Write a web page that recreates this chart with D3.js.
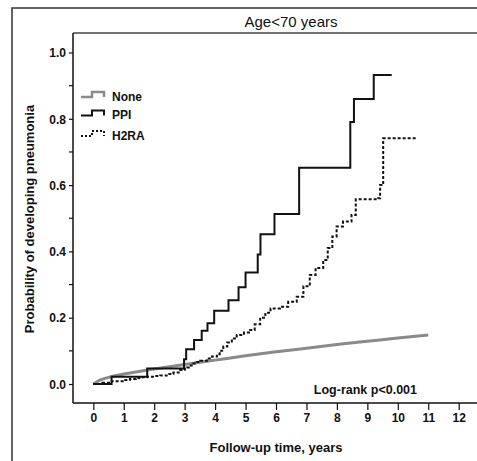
<!DOCTYPE html>
<html>
<head>
<meta charset="utf-8">
<script src="https://cdn.jsdelivr.net/npm/d3@7"></script>
<style>
  html, body { margin: 0; padding: 0; background: #fff; }
  svg { display: block; }
  text { font-family: "Liberation Sans", Arial, sans-serif; }
</style>
</head>
<body>
<svg id="chart" width="477" height="461"></svg>
<script>
// ---- data ----
const title = "Age<70 years";
const xLabel = "Follow-up time, years";
const yLabel = "Probability of developing pneumonia";
const xTickValues = [0, 1, 2, 3, 4, 5, 6, 7, 8, 9, 10, 11, 12];
const yTickValues = [0.0, 0.2, 0.4, 0.6, 0.8, 1.0];
const yMinorTicks = [0.1, 0.3, 0.5, 0.7, 0.9];
const seriesNames = ["None", "PPI", "H2RA"];
const annotation = "Log-rank p<0.001";

const noneTime = [0, 0.25, 0.5, 1, 1.5, 2, 3, 4, 5, 6, 7, 8, 9, 10, 11];
const noneProb = [0, 0.013, 0.020, 0.030, 0.038, 0.045, 0.059, 0.072, 0.085, 0.097, 0.108, 0.119, 0.129, 0.139, 0.148];

const ppiTime = [0, 0.60, 1.77, 2.98, 3.05, 3.31, 3.56, 3.75, 3.97, 4.44, 4.77, 5.00, 5.40, 5.49, 5.95, 6.76, 8.44, 8.56, 9.21, 9.80];
const ppiProb = [0, 0.022, 0.047, 0.075, 0.105, 0.133, 0.161, 0.183, 0.221, 0.253, 0.292, 0.336, 0.391, 0.452, 0.513, 0.652, 0.790, 0.860, 0.932, 0.932];

const h2raTime = [0, 0.30, 0.61, 1.0, 1.2, 1.4, 1.55, 1.76, 2.0, 2.2, 2.45, 2.63, 2.85, 3.0, 3.07, 3.2, 3.29, 3.4, 3.51, 3.73, 3.9, 4.06, 4.15, 4.27, 4.4, 4.55, 4.71, 4.95, 5.15, 5.3, 5.48, 5.65, 5.82, 6.13, 6.4, 6.68, 6.9, 7.11, 7.3, 7.55, 7.7, 7.85, 7.99, 8.2, 8.48, 8.62, 9.36, 9.42, 9.52, 10.6];
const h2raProb = [0, 0.004, 0.008, 0.012, 0.015, 0.018, 0.020, 0.022, 0.024, 0.026, 0.030, 0.035, 0.042, 0.046, 0.050, 0.056, 0.062, 0.066, 0.070, 0.077, 0.083, 0.090, 0.100, 0.113, 0.125, 0.137, 0.148, 0.155, 0.163, 0.180, 0.200, 0.215, 0.228, 0.233, 0.248, 0.263, 0.295, 0.329, 0.350, 0.374, 0.410, 0.445, 0.475, 0.490, 0.510, 0.557, 0.560, 0.600, 0.741, 0.741];

// ---- layout ----
const svg = d3.select("#chart");
const x = d3.scaleLinear().domain([0, 12]).range([93.3, 458.7]);
const y = d3.scaleLinear().domain([0, 1]).range([384, 52.5]);
const axisX0 = 73, axisY0 = 403, frameTop = 33;

// outer border
svg.append("rect").attr("x", 12).attr("y", 8).attr("width", 480).attr("height", 470)
  .attr("fill", "none").attr("stroke", "#333").attr("stroke-width", 1.5);

// plot frame top line
svg.append("line").attr("x1", axisX0).attr("x2", 477).attr("y1", frameTop).attr("y2", frameTop)
  .attr("stroke", "#444").attr("stroke-width", 1.5);

// title
svg.append("text").attr("x", 291).attr("y", 27).attr("text-anchor", "middle")
  .attr("font-size", 15).attr("fill", "#111").text(title);

// y axis
const yAxis = d3.axisLeft(y).tickValues(yTickValues).tickFormat(d3.format(".1f")).tickSize(4).tickSizeOuter(0);
const gy = svg.append("g").attr("transform", `translate(${axisX0},0)`).call(yAxis);
gy.select(".domain").remove();
gy.selectAll("text").attr("font-size", 12).attr("font-weight", "bold").attr("fill", "#111")
  .attr("font-family", "'Liberation Sans', Arial, sans-serif").attr("x", -7).attr("dy", "0.35em");
gy.selectAll(".tick line").attr("stroke", "#111").attr("stroke-width", 1.2);
svg.append("g").selectAll("line").data(yMinorTicks).join("line")
  .attr("x1", axisX0 - 4).attr("x2", axisX0).attr("y1", d => y(d)).attr("y2", d => y(d))
  .attr("stroke", "#111").attr("stroke-width", 1.2);
svg.append("line").attr("x1", axisX0).attr("x2", axisX0).attr("y1", frameTop).attr("y2", axisY0)
  .attr("stroke", "#111").attr("stroke-width", 1.5);

// x axis
const xAxis = d3.axisBottom(x).tickValues(xTickValues).tickFormat(d3.format("d")).tickSize(7).tickSizeOuter(0);
const gx = svg.append("g").attr("transform", `translate(0,${axisY0})`).call(xAxis);
gx.select(".domain").remove();
gx.selectAll("text").attr("font-size", 12).attr("font-weight", "bold").attr("fill", "#111")
  .attr("font-family", "'Liberation Sans', Arial, sans-serif").attr("y", 10).attr("dy", "0.71em");
gx.selectAll(".tick line").attr("stroke", "#111").attr("stroke-width", 1.2);
svg.append("line").attr("x1", axisX0).attr("x2", 477).attr("y1", axisY0).attr("y2", axisY0)
  .attr("stroke", "#111").attr("stroke-width", 1.5);

// axis titles
svg.append("text").attr("x", 276).attr("y", 452).attr("text-anchor", "middle")
  .attr("font-size", 13).attr("font-weight", "bold").attr("fill", "#111").text(xLabel);
svg.append("text").attr("transform", "translate(34,219) rotate(-90)").attr("text-anchor", "middle")
  .attr("font-size", 13).attr("font-weight", "bold").attr("fill", "#111").text(yLabel);

// curves
const toPts = (t, p) => t.map((d, i) => [d, p[i]]);
const stepLine = d3.line().x(d => x(d[0])).y(d => y(d[1])).curve(d3.curveStepAfter);
const smoothLine = d3.line().x(d => x(d[0])).y(d => y(d[1])).curve(d3.curveMonotoneX);

svg.append("path").attr("d", smoothLine(toPts(noneTime, noneProb)))
  .attr("fill", "none").attr("stroke", "#8a8a8a").attr("stroke-width", 3);
svg.append("path").attr("d", stepLine(toPts(h2raTime, h2raProb)))
  .attr("fill", "none").attr("stroke", "#111").attr("stroke-width", 2).attr("stroke-dasharray", "3,2");
svg.append("path").attr("d", stepLine(toPts(ppiTime, ppiProb)))
  .attr("fill", "none").attr("stroke", "#111").attr("stroke-width", 2);

// legend
const legendStyles = [
  { stroke: "#8a8a8a", dash: null, w: 2.5 },
  { stroke: "#111", dash: null, w: 2 },
  { stroke: "#111", dash: "2,2", w: 2 }
];
const legY = [96, 114.5, 135];
seriesNames.forEach((name, i) => {
  const ly = legY[i];
  svg.append("path").attr("d", `M81,${ly + 1} H92 V${ly - 4} H104 V${ly + 1}`)
    .attr("fill", "none").attr("stroke", legendStyles[i].stroke).attr("stroke-width", legendStyles[i].w)
    .attr("stroke-dasharray", legendStyles[i].dash);
  svg.append("text").attr("x", 112).attr("y", ly + 4.5).attr("font-size", 12).attr("font-weight", "bold")
    .attr("fill", "#111").text(name);
});

// annotation
svg.append("text").attr("x", 417).attr("y", 394).attr("text-anchor", "end")
  .attr("font-size", 12.5).attr("font-weight", "bold").attr("fill", "#111").text(annotation);
</script>
</body>
</html>
